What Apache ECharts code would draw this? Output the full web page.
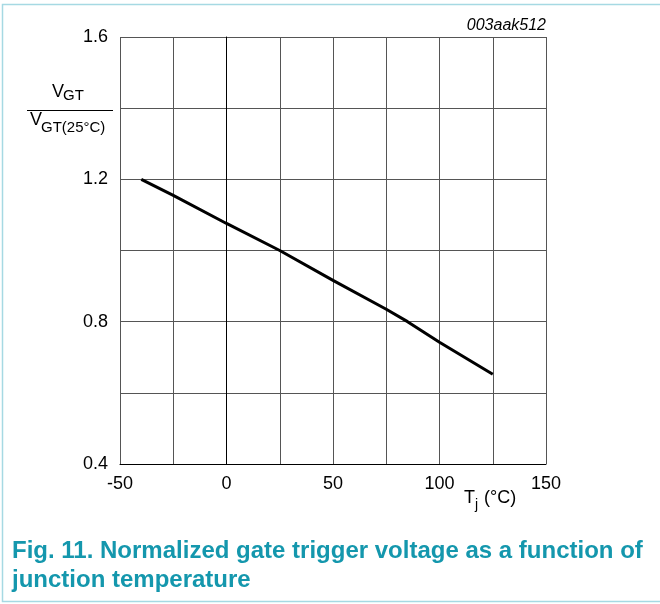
<!DOCTYPE html>
<html>
<head>
<meta charset="utf-8">
<script src="https://cdn.jsdelivr.net/npm/echarts@6/dist/echarts.min.js"></script>
<style>
  html, body { margin: 0; padding: 0; background: #fff; }
  #main { width: 660px; height: 604px; }
</style>
</head>
<body>
<div id="main"></div>
<script>
// junction temperature (°C) and normalized V_GT
const tempC = [-40, -25, 0, 25, 50, 75, 85, 100, 125];
const vgtNorm = [1.2, 1.155, 1.076, 1.0, 0.916, 0.835, 0.8, 0.742, 0.652];
const yTickLabels = ['0.4', '0.8', '1.2', '1.6'];
const xTickLabels = ['-50', '0', '50', '100', '150'];

const chart = echarts.init(document.getElementById('main'));
const font = 'Liberation Sans, Arial, sans-serif';
const teal = '#1497ad';

chart.setOption({
  animation: false,
  grid: { left: 120, right: 114, top: 37, bottom: 140, containLabel: false },
  xAxis: {
    type: 'value', min: -50, max: 150, interval: 25,
    axisLine: { lineStyle: { color: '#000', width: 1 } },
    axisTick: { show: false },
    splitLine: { lineStyle: { color: '#555', width: 1 } },
    axisLabel: {
      color: '#000', fontSize: 18, fontFamily: font, margin: 11,
      formatter: v => xTickLabels.includes(String(v)) ? String(v) : ''
    }
  },
  yAxis: {
    type: 'value', min: 0.4, max: 1.6, interval: 0.2,
    axisLine: { show: true, lineStyle: { color: '#000', width: 1 } },
    axisTick: { show: false },
    splitLine: { lineStyle: { color: '#555', width: 1 } },
    axisLabel: {
      color: '#000', fontSize: 18, fontFamily: font, margin: 12,
      formatter: v => {
        const s = (Math.round(v * 10) / 10).toFixed(1);
        return yTickLabels.includes(s) ? s : '';
      }
    }
  },
  series: [{
    type: 'line',
    data: tempC.map((t, i) => [t, vgtNorm[i]]),
    showSymbol: false,
    lineStyle: { color: '#000', width: 3 }
  }],
  graphic: [
    { type: 'rect', silent: true, shape: { x: 2.5, y: 4.5, width: 700, height: 597 },
      style: { fill: 'none', stroke: '#a6d9e3', lineWidth: 1.5 } },
    { type: 'text', x: 546, y: 26, style: { text: '003aak512', font: 'italic 16px ' + font, fill: '#000', align: 'right', verticalAlign: 'middle' } },
    // y axis name: V_GT / V_GT(25°C)
    { type: 'text', x: 52, y: 101, style: { text: 'V', font: '18px ' + font, fill: '#000', align: 'left', verticalAlign: 'bottom' } },
    { type: 'text', x: 63, y: 103, style: { text: 'GT', font: '15px ' + font, fill: '#000', align: 'left', verticalAlign: 'bottom' } },
    { type: 'line', shape: { x1: 27, y1: 110.5, x2: 113, y2: 110.5 }, style: { stroke: '#000', lineWidth: 1 } },
    { type: 'text', x: 30, y: 129, style: { text: 'V', font: '18px ' + font, fill: '#000', align: 'left', verticalAlign: 'bottom' } },
    { type: 'text', x: 41, y: 135, style: { text: 'GT(25°C)', font: '15px ' + font, fill: '#000', align: 'left', verticalAlign: 'bottom' } },
    // x axis name: T_j (°C)
    { type: 'text', x: 464, y: 507, style: { text: 'T', font: '18px ' + font, fill: '#000', align: 'left', verticalAlign: 'bottom' } },
    { type: 'text', x: 475, y: 512, style: { text: 'j', font: '14px ' + font, fill: '#000', align: 'left', verticalAlign: 'bottom' } },
    { type: 'text', x: 484, y: 507, style: { text: '(°C)', font: '18px ' + font, fill: '#000', align: 'left', verticalAlign: 'bottom' } },
    // caption
    { type: 'text', x: 12, y: 551, style: { text: 'Fig. 11. Normalized gate trigger voltage as a function of', font: 'bold 24px ' + font, fill: teal, align: 'left', verticalAlign: 'middle' } },
    { type: 'text', x: 12, y: 580, style: { text: 'junction temperature', font: 'bold 24px ' + font, fill: teal, align: 'left', verticalAlign: 'middle' } }
  ]
});
</script>
</body>
</html>
